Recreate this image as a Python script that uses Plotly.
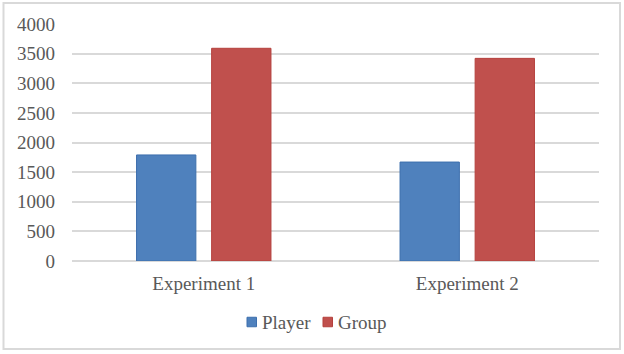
import plotly.graph_objects as go

categories = ["Experiment 1", "Experiment 2"]
player = [1790, 1670]
group = [3590, 3420]
series_names = ["Player", "Group"]
series_colors = ["#4F81BD", "#C0504D"]
series_edges = ["#3D6FAD", "#B5403D"]
y_ticks = [0, 500, 1000, 1500, 2000, 2500, 3000, 3500, 4000]

W, H = 624, 354
ml, mr, mt, mb = 72, 25, 24, 93
pw = W - ml - mr
ph = H - mt - mb

fig = go.Figure()
for name, vals, col, edge in zip(series_names, [player, group], series_colors, series_edges):
    fig.add_trace(go.Bar(
        x=categories, y=vals, name=name, showlegend=False,
        marker=dict(color=col, line=dict(color=edge, width=1)),
    ))

font_family = "Liberation Serif"
text_color = "#595959"
fs = 19

fig.update_layout(
    width=W, height=H,
    margin=dict(l=ml, r=mr, t=mt, b=mb, pad=0),
    paper_bgcolor="white", plot_bgcolor="white",
    barmode="group", bargap=0.43, bargroupgap=0.21,
    font=dict(family=font_family, size=fs, color=text_color),
    xaxis=dict(
        showgrid=False, showline=False, zeroline=False, ticks="",
        tickfont=dict(family=font_family, size=fs, color=text_color),
        ticklabelstandoff=9,
    ),
    yaxis=dict(
        range=[0, 4000], tickvals=y_ticks,
        showgrid=True, gridcolor="#D9D9D9", gridwidth=1.5,
        zeroline=True, zerolinecolor="#D9D9D9", zerolinewidth=1.5,
        showline=False, ticks="",
        tickfont=dict(family=font_family, size=fs, color=text_color),
        ticklabelstandoff=16,
    ),
)

def px_x(px):
    return (px - ml) / pw

def px_y(py):
    return (H - mb - py) / ph

# outer chart frame
fig.add_shape(
    type="rect", xref="paper", yref="paper",
    x0=px_x(3.5), x1=px_x(620), y0=px_y(349), y1=px_y(3),
    line=dict(color="#D9D9D9", width=2), fillcolor="rgba(0,0,0,0)",
    layer="below",
)

# legend (Office-style: small square key right next to the label)
legend_keys_left = [247, 323]
legend_cy = 322
for name, col, edge, kx in zip(series_names, series_colors, series_edges, legend_keys_left):
    fig.add_shape(
        type="rect", xref="paper", yref="paper",
        x0=px_x(kx), x1=px_x(kx + 9.5),
        y0=px_y(legend_cy + 4.75), y1=px_y(legend_cy - 4.75),
        line=dict(color=edge, width=1), fillcolor=col,
    )
    fig.add_annotation(
        xref="paper", yref="paper", x=px_x(kx + 13), y=px_y(legend_cy),
        xanchor="left", yanchor="middle", showarrow=False, text=name,
        font=dict(family=font_family, size=fs, color=text_color),
    )

fig.write_html(
    "out.html",
    config={"displayModeBar": False},
    post_script="document.body.style.margin='0';",
)
